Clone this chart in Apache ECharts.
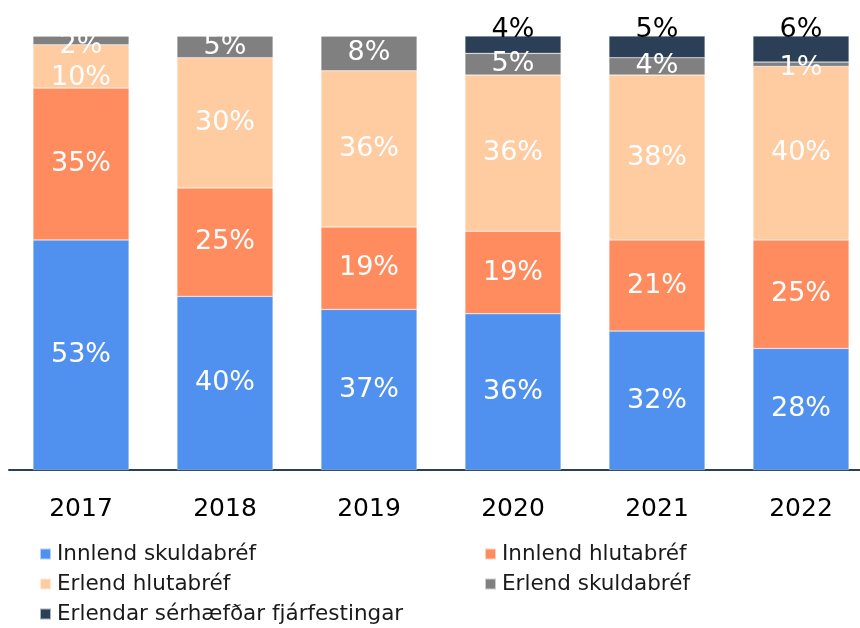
<!DOCTYPE html>
<html><head><meta charset="utf-8">
<script src="https://cdn.jsdelivr.net/npm/echarts@6/dist/echarts.min.js"></script>
<style>html,body{margin:0;padding:0;background:#fff}#c{width:860px;height:628px}</style>
</head><body><div id="c"></div>
<script>
var categories = ['2017','2018','2019','2020','2021','2022'];
var seriesNames = ['Innlend skuldabréf','Innlend hlutabréf','Erlend hlutabréf','Erlend skuldabréf','Erlendar sérhæfðar fjárfestingar'];
var innlendSkuldabref = [53, 40, 37, 36, 32, 28];
var innlendHlutabref = [35, 25, 19, 19, 21, 25];
var erlendHlutabref = [10, 30, 36, 36, 38, 40];
var erlendSkuldabref = [2, 5, 8, 5, 4, 1];
var erlendarSerhaefdar = [0, 0, 0, 4, 5, 6];

var colors = ['#5090ee','#ff8c5f','#ffcba1','#808080','#2b3f57'];
var values = [innlendSkuldabref, innlendHlutabref, erlendHlutabref, erlendSkuldabref, erlendarSerhaefdar];
// label nudges (style only)
var labelOffsets = {'2-0':[0,12], '3-0':[0,6], '3-5':[0,4]};
var FONT = 'DejaVu Sans, Verdana, sans-serif';

var series = values.map(function(arr, si){
  return {
    name: seriesNames[si], type: 'bar', stack: 'all', barCategoryGap: '33.3%',
    itemStyle: {color: colors[si], borderColor: 'rgba(255,255,255,0.6)', borderWidth: 0.5},
    label: si === 4 ? {show: true, position: 'top', distance: -7, color: '#000', fontSize: 27, fontFamily: FONT,
        formatter: function(p){ return p.value ? p.value + '%' : ''; }}
      : {show: true, position: 'inside', color: '#fff', fontSize: 27, fontFamily: FONT,
        formatter: function(p){ return p.value ? p.value + '%' : ''; }},
    data: arr.map(function(v, ci){
      var o = labelOffsets[si + '-' + ci];
      return o ? {value: v, label: {offset: o}} : v;
    })
  };
});

var legendCommon = {orient: 'vertical', top: 538, height: 90, itemWidth: 11, itemHeight: 11, itemGap: 8, icon: 'rect',
  textStyle: {fontSize: 21.5, fontFamily: FONT, color: '#1a1a1a', padding: [0,0,0,1]}};

var chart = echarts.init(document.getElementById('c'));
chart.setOption({
  animation: false,
  color: colors,
  grid: {left: 9, top: 36, right: -13, bottom: 158, containLabel: false, outerBoundsMode: 'none'},
  xAxis: {type: 'category', data: categories,
    axisLine: {lineStyle: {color: '#2b3f57', width: 2}},
    axisTick: {show: false},
    axisLabel: {color: '#000', fontSize: 25, fontFamily: FONT, margin: 27}},
  yAxis: {type: 'value', min: 0, max: 100, show: false, splitLine: {show: false}},
  legend: [
    Object.assign({data: [seriesNames[0], seriesNames[2], seriesNames[4]], left: 34}, legendCommon),
    Object.assign({data: [seriesNames[1], seriesNames[3]], left: 479}, legendCommon)
  ],
  series: series
});
</script></body></html>
